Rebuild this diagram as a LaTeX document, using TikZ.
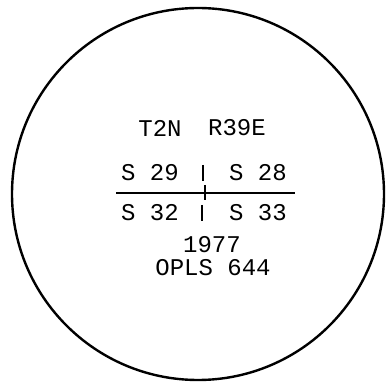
\documentclass[tikz,border=0pt]{standalone}
\usepackage{fontspec}
\setmonofont{Liberation Mono}
\usepackage{tikz}

\begin{document}
\begin{tikzpicture}[x=1pt,y=-1pt,
  lbl/.style={font=\ttfamily\fontsize{24}{24}\selectfont,inner sep=0pt},
  rule/.style={line width=1.2pt}]
\useasboundingbox (0,0) rectangle (389,382);
\node[draw,circle,line width=2.4pt,minimum size=372pt,inner sep=0pt] (seal) at (198,194) {};
\node[lbl] (town) at (160,128) {T2N};
\node[lbl] (range) at (237,128) {R39E};
\node[lbl] (nw) at (150,173) {S 29};
\node[lbl] (ne) at (258,173) {S 28};
\node[lbl] (sw) at (150,213) {S 32};
\node[lbl] (se) at (258,213) {S 33};
\node[lbl] (year) at (212,245) {1977};
\node[lbl] (code) at (213,268) {OPLS 644};
\coordinate (west) at (116,193);
\coordinate (east) at (295,193);
\draw[rule] (west)--(east);
\draw[rule] (205,185)--(205,200);
\draw[rule] (203,165)--(203,181);
\draw[rule] (202,205)--(202,221);
\end{tikzpicture}
\end{document}
